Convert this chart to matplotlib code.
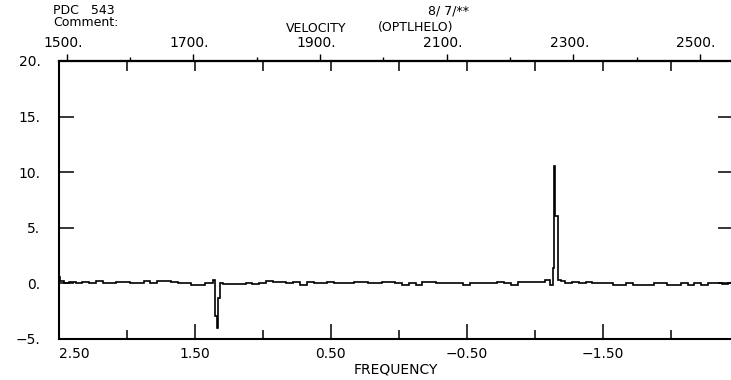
import numpy as np
import matplotlib
matplotlib.use("Agg")
import matplotlib.pyplot as plt
import matplotlib.transforms as mtransforms

# Spectrum samples: frequency and amplitude
freq = [
    2.50, 2.475, 2.45, 2.40, 2.35, 2.30, 2.25, 2.20, 2.15, 2.10, 2.05,
    2.00, 1.95, 1.90, 1.85, 1.80, 1.75, 1.70, 1.65, 1.60, 1.55,
    1.50, 1.45, 1.40, 1.37, 1.355, 1.338, 1.329, 1.320, 1.308, 1.28,
    1.25, 1.20, 1.15, 1.10, 1.05, 1.00, 0.95, 0.90, 0.85, 0.80,
    0.75, 0.70, 0.65, 0.60, 0.55, 0.50, 0.45, 0.40, 0.35, 0.30,
    0.25, 0.20, 0.15, 0.10, 0.05, 0.00, -0.05, -0.10, -0.15, -0.20,
    -0.25, -0.30, -0.35, -0.40, -0.45, -0.50, -0.55, -0.60, -0.65, -0.70,
    -0.75, -0.80, -0.85, -0.90, -0.95, -1.00, -1.05, -1.10, -1.125, -1.141,
    -1.150, -1.156, -1.168, -1.182, -1.20, -1.25, -1.30, -1.35, -1.40, -1.45,
    -1.50, -1.55, -1.60, -1.65, -1.70, -1.75, -1.80, -1.85, -1.90, -1.95,
    -2.00, -2.05, -2.10, -2.15, -2.20, -2.25, -2.30, -2.35, -2.40, -2.45, -2.47,
]
amp = [
    0.55, 0.20, 0.05, 0.15, 0.05, 0.15, 0.00, 0.20, 0.00, 0.00, 0.15,
    0.15, 0.00, 0.00, 0.20, 0.00, 0.20, 0.20, 0.15, 0.00, 0.00,
    -0.12, -0.12, 0.00, 0.00, 0.35, -2.90, -4.00, -1.30, 0.00, -0.05,
    -0.08, -0.05, -0.08, 0.00, -0.05, 0.00, 0.20, 0.10, 0.10, 0.00,
    0.10, -0.10, 0.10, 0.00, 0.00, 0.10, 0.00, 0.00, 0.00, 0.15,
    0.15, 0.00, 0.00, 0.15, 0.10, 0.00, -0.10, 0.00, -0.10, 0.10,
    0.15, 0.00, 0.00, 0.00, 0.00, -0.10, 0.00, 0.00, 0.00, 0.00,
    0.10, 0.05, -0.10, 0.15, 0.15, 0.10, 0.15, 0.30, -0.15, 1.40,
    10.60, 6.10, 6.10, 0.30, 0.20, 0.00, 0.15, 0.00, 0.15, 0.00,
    0.00, 0.00, -0.10, -0.10, 0.00, -0.10, -0.10, -0.10, 0.00, 0.00,
    -0.10, -0.10, 0.00, -0.10, 0.00, -0.10, 0.00, 0.00, -0.05, 0.00, 0.00,
]

y_ticks = [-5, 0, 5, 10, 15, 20]
y_labels = ["\u22125.", "0.", "5.", "10.", "15.", "20."]
f_major = [2.5, 1.5, 0.5, -0.5, -1.5]
f_labels = ["2.50", "1.50", "0.50", "\u22120.50", "\u22121.50"]
f_minor = [2.0, 1.0, 0.0, -1.0, -2.0]
v_major = [1500, 1700, 1900, 2100, 2300, 2500]
v_labels = ["1500.", "1700.", "1900.", "2100.", "2300.", "2500."]
v_minor = [1600, 1800, 2000, 2200, 2400]

# Velocity scale is linear in frequency
V0, DVDF = 2024.1, 214.76


def f_to_v(f):
    return V0 - DVDF * np.asarray(f, dtype=float)


def v_to_f(v):
    return (V0 - np.asarray(v, dtype=float)) / DVDF


plt.rcParams["font.family"] = ["DejaVu Sans"]
plt.rcParams["font.size"] = 10

W, H = 731, 380
fig = plt.figure(figsize=(W / 100, H / 100), dpi=100)
xlo, xhi = 2.5, -2.46
px_per_f = 136.0
ax_left, ax_bottom, ax_top = 58.6, 339.0, 61.0
ax = fig.add_axes([ax_left / W, (H - ax_bottom) / H,
                   (xlo - xhi) * px_per_f / W, (ax_bottom - ax_top) / H])

ax.plot(freq, amp, color="black", lw=1.2, drawstyle="steps-mid",
        solid_joinstyle="miter")
ax.set_xlim(xlo, xhi)
ax.set_ylim(-5, 20)

for side in ("left", "bottom", "top", "right"):
    ax.spines[side].set_linewidth(1.5)

# Frequency axis (bottom)
ax.set_xticks(f_major, f_labels)
ax.set_xticks(f_minor, minor=True)
ax.tick_params(axis="x", which="major", direction="in", length=11, width=1.1,
               pad=5.5, top=False, labelsize=10)
ax.tick_params(axis="x", which="minor", direction="in", length=6.5, width=1.1,
               top=False)
ax.get_xticklabels()[0].set_ha("left")

# Amplitude axis
ax.set_yticks(y_ticks, y_labels)
ax.tick_params(axis="y", which="major", direction="in", length=11, width=1.1,
               pad=13, right=True, labelsize=10)

# Frequency ticks mirrored on the top spine
top_f = ax.secondary_xaxis("top")
top_f.set_xticks(f_major, [""] * len(f_major))
top_f.set_xticks(f_minor, minor=True)
top_f.tick_params(which="both", direction="in", length=7, width=1.1)
top_f.spines["top"].set_linewidth(1.5)

# Velocity axis (top)
vel = ax.secondary_xaxis("top", functions=(f_to_v, v_to_f))
vel.set_xticks(v_major, v_labels)
vel.set_xticks(v_minor, minor=True)
vel.tick_params(which="major", direction="out", length=5, width=1.0, pad=3,
                labelsize=10)
vel.tick_params(which="minor", direction="out", length=3, width=1.0)
vel.spines["top"].set_linewidth(1.5)
shift = mtransforms.ScaledTranslation(-4 / 100, 0, fig.dpi_scale_trans)
for lab in vel.get_xticklabels():
    lab.set_transform(lab.get_transform() + shift)

ax.set_xlabel("FREQUENCY", fontsize=10, labelpad=1.5)


def px_text(x, y, s, **kw):
    fig.text(x / W, 1 - y / H, s, ha="left", va="center", fontsize=9, **kw)


px_text(53, 10, "PDC   543")
px_text(53, 23, "Comment:")
px_text(286, 29, "VELOCITY")
px_text(378, 27, "(OPTLHELO)")
px_text(428, 11, "8/ 7/**")

fig.savefig("out.png", dpi=100)
